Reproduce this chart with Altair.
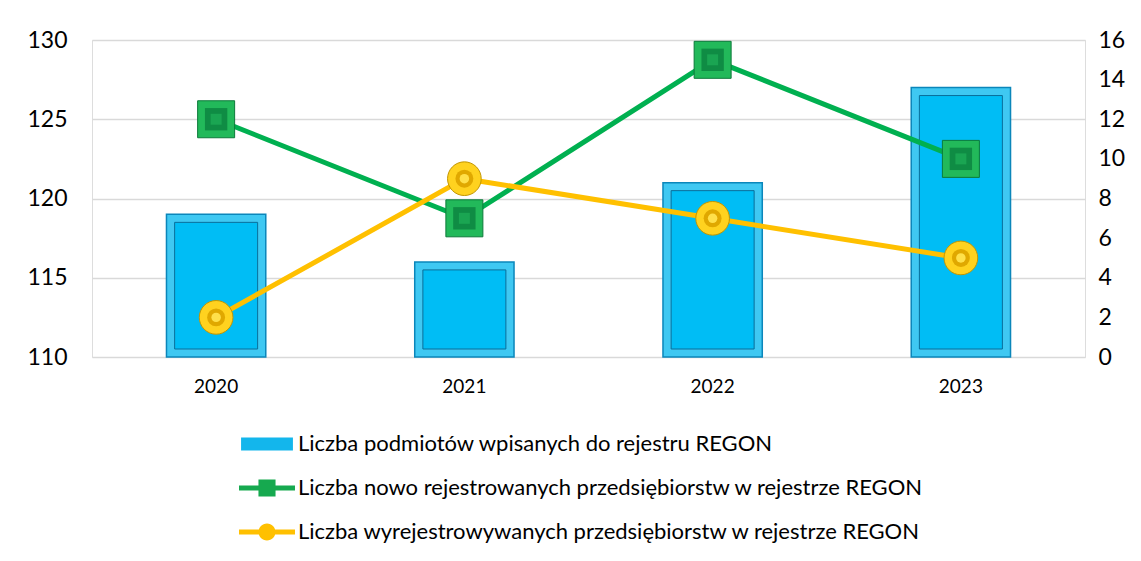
import altair as alt
import pandas as pd

# ---- data ----
years = ["2020", "2021", "2022", "2023"]
podmioty = [119, 116, 121, 127]          # left axis (bars)
nowo = [12, 7, 15, 10]                   # right axis (green line)
wyrej = [2, 9, 7, 5]                     # right axis (yellow line)

series_names = [
    "Liczba podmiotów wpisanych do rejestru REGON",
    "Liczba nowo rejestrowanych przedsiębiorstw w rejestrze REGON",
    "Liczba wyrejestrowywanych przedsiębiorstw w rejestrze REGON",
]
series_colors = ["#13B6EC", "#16A94F", "#FFC000"]
legend_shapes = [
    "M-1.64,-0.41H1.64V0.41H-1.64Z",
    "M-1.77,-0.16H1.77V0.16H-1.77Z M-0.54,-0.54H0.54V0.54H-0.54Z",
    "M-1.77,-0.16H1.77V0.16H-1.77Z M-0.54,0A0.54,0.54 0 1,1 0.54,0A0.54,0.54 0 1,1 -0.54,0Z",
]

left_ticks = [110, 115, 120, 125, 130]
right_ticks = [0, 2, 4, 6, 8, 10, 12, 14, 16]

FONT = "Lato"

bar_df = pd.DataFrame({"rok": years, "wartosc": podmioty})
green_df = pd.DataFrame({"rok": years, "wartosc": nowo})
yellow_df = pd.DataFrame({"rok": years, "wartosc": wyrej})
legend_df = pd.DataFrame({"seria": series_names})

x_enc = alt.X(
    "rok:N",
    sort=years,
    scale=alt.Scale(paddingInner=0.6, paddingOuter=0.3),
    axis=alt.Axis(title=None, labelAngle=0, domain=False, ticks=False,
                  labelPadding=20, labelFontSize=19, labelFont=FONT,
                  labelColor="#000000"),
)

y_left = alt.Y(
    "wartosc:Q",
    scale=alt.Scale(domain=[110, 130], zero=False, nice=False),
    axis=alt.Axis(title=None, values=left_ticks, domain=False, ticks=False,
                  grid=True, gridColor="#D9D9D9", gridWidth=1.5,
                  labelPadding=25, labelFontSize=23, labelFont=FONT,
                  labelColor="#000000"),
)

y_right = alt.Y(
    "wartosc:Q",
    scale=alt.Scale(domain=[0, 16], nice=False),
    axis=alt.Axis(orient="right", title=None, values=right_ticks,
                  domain=False, ticks=False, grid=False,
                  labelPadding=13, labelFontSize=23, labelFont=FONT,
                  labelColor="#000000"),
)

bars_outer = alt.Chart(bar_df).mark_bar(
    color="#3FC8F2", stroke="#0B86BA", strokeWidth=1.5
).encode(x=x_enc, y=y_left, y2=alt.datum(110))

bars_inner = alt.Chart(bar_df).mark_bar(
    color="#00BDF5", size=83, yOffset=8, y2Offset=-8,
    stroke="#0A6E9A", strokeWidth=1
).encode(x=x_enc, y=y_left, y2=alt.datum(110))

bars = alt.layer(bars_outer, bars_inner)

color_scale = alt.Scale(domain=series_names, range=series_colors)

green = alt.Chart(green_df)
yellow = alt.Chart(yellow_df)

g_line = green.mark_line(strokeWidth=5, color="#00B050").encode(x=x_enc, y=y_right)
y_line = yellow.mark_line(strokeWidth=5, color="#FFC000").encode(x=x_enc, y=y_right)

g_outer = green.mark_point(shape="square", filled=True, size=1369, opacity=1,
                           color="#22B95A", stroke="#0C7A3A", strokeWidth=1
                           ).encode(x=x_enc, y=y_right)
g_mid = green.mark_point(shape="square", filled=True, size=500, opacity=1,
                         color="#0F8C44").encode(x=x_enc, y=y_right)
g_core = green.mark_point(shape="square", filled=True, size=120, opacity=1,
                          color="#1AA552").encode(x=x_enc, y=y_right)

y_outer = yellow.mark_point(shape="circle", filled=True, size=1134, opacity=1,
                            color="#FFD21F", stroke="#C29500", strokeWidth=1
                            ).encode(x=x_enc, y=y_right)
y_mid = yellow.mark_point(shape="circle", filled=True, size=320, opacity=1,
                          color="#E0A800").encode(x=x_enc, y=y_right)
y_core = yellow.mark_point(shape="circle", filled=True, size=90, opacity=1,
                           color="#FFE04A").encode(x=x_enc, y=y_right)

# legend carrier: no marks drawn (all rows filtered out); entries come
# from the explicit scale domains
legend_layer = alt.Chart(legend_df).transform_filter("false").mark_point(
    filled=True, opacity=1
).encode(
    color=alt.Color(
        "seria:N", scale=color_scale, sort=series_names,
        legend=alt.Legend(
            title=None, orient="none", legendX=159, legendY=388,
            direction="vertical", symbolSize=1000, symbolStrokeWidth=0,
            symbolOpacity=1, labelFontSize=22, labelFont=FONT,
            labelColor="#000000", labelOffset=15, rowPadding=17,
            padding=0, labelLimit=900,
        ),
    ),
    shape=alt.Shape("seria:N", sort=series_names,
                    scale=alt.Scale(domain=series_names, range=legend_shapes)),
)

right_layer = alt.layer(g_line, y_line, g_outer, g_mid, g_core,
                        y_outer, y_mid, y_core, legend_layer)

chart = alt.layer(bars, right_layer).resolve_scale(y="independent").properties(
    width=993, height=317,
    autosize=alt.AutoSizeParams(type="none"),
    padding={"left": 84, "top": 32, "right": 48, "bottom": 196},
).configure_view(stroke=None).configure(background="#FFFFFF")

chart.save("out.html", embed_options={"renderer": "svg", "actions": False})
